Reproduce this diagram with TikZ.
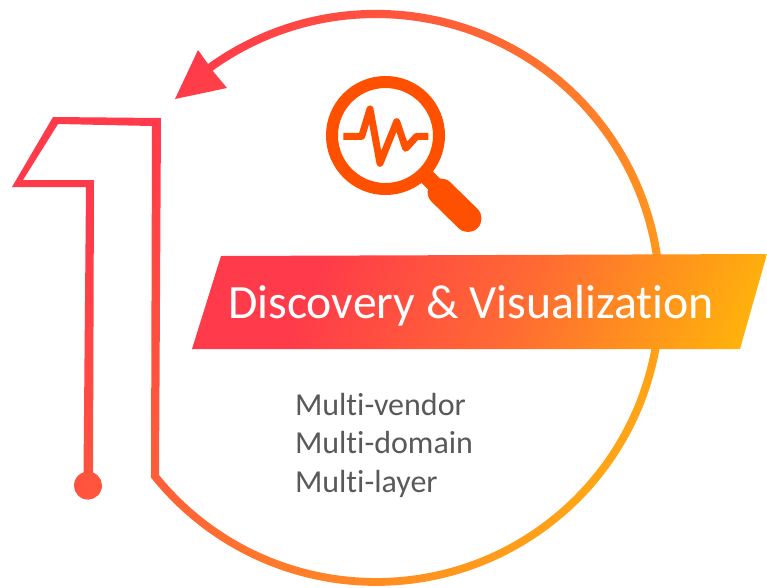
\documentclass[tikz,border=0pt]{standalone}
\usepackage{fontspec}
\setmainfont[Ligatures=NoCommon]{Carlito}
\definecolor{gradred}{HTML}{FF3A4A}
\definecolor{gradorange}{HTML}{FFAC13}
\definecolor{bannermid}{HTML}{FF6A33}
\definecolor{bannerend}{HTML}{FFB40A}
\definecolor{iconorange}{HTML}{FF5000}
\definecolor{listgray}{HTML}{595959}
\pgfdeclarehorizontalshading{ringgrad}{100bp}{color(0bp)=(gradred); color(34.75bp)=(gradred); color(65bp)=(gradorange); color(100bp)=(gradorange)}
\pgfdeclarehorizontalshading{bannergrad}{100bp}{color(0bp)=(gradred); color(45bp)=(gradred); color(55bp)=(bannermid); color(66bp)=(bannerend); color(100bp)=(bannerend)}
\tikzset{
  lens/.style={draw=iconorange,line width=12pt},
  pulse/.style={draw=iconorange,line width=7pt,line join=round},
  titletext/.style={text=white,font=\fontsize{47.8}{48}\selectfont,anchor=base west,inner sep=0pt,outer sep=0pt},
  listtext/.style={text=listgray,font=\fontsize{32}{32}\selectfont,anchor=base west,inner sep=0pt,outer sep=0pt}
}
\begin{document}
\begin{tikzpicture}[x=1pt,y=1pt,yscale=-1]
\useasboundingbox (0,0) rectangle (767,587);
% the one continuous line: dot, figure-one outline, circle, arrow head
\begin{scope}
\clip (83.5,472.5) -- (86,187) -- (12,187) -- (53,117) -- (161,118) -- (159,475)
  arc[start angle=140.8,end angle=-125.7,radius=280pt]
  -- (227,88) -- (175,99) -- (198,50) -- (208,64)
  arc[start angle=-125.7,end angle=141.4,radius=288pt]
  -- (152,126) -- (58,124) -- (23,180) -- (94,180) -- (93,472.5)
  arc[start angle=-69,end angle=251,radius=14pt]
  -- cycle;
\shade[shading=ringgrad,shading angle=-32.2] (-77,-233.5) rectangle (923,766.5);
\end{scope}
% banner
\begin{scope}
\clip (221,256) -- (767,254) -- (740,349) -- (192,349) -- cycle;
\shade[shading=bannergrad,shading angle=-25] (-47,-288.5) rectangle (953,711.5);
\end{scope}
\node[titletext] (title) at (228,318) {Discovery \& Visualization};
\node[listtext] (vendor) at (295,415) {Multi-vendor};
\node[listtext] (domain) at (295,453) {Multi-domain};
\node[listtext] (layer) at (295,492) {Multi-layer};
% magnifier
\draw[lens] (385.5,135.5) circle[radius=53.5pt];
\draw[iconorange,line width=16pt] (423,173) -- (445,195);
\draw[iconorange,line width=27pt,line cap=round] (441,192) -- (468,218.5);
\draw[pulse] (343.3,136.3) -- (361.7,136.3) -- (370,109) -- (380,163.3) -- (396.7,121.7) -- (405.7,148.3) -- (416.7,136.3) -- (428.3,136.3);
\end{tikzpicture}
\end{document}
